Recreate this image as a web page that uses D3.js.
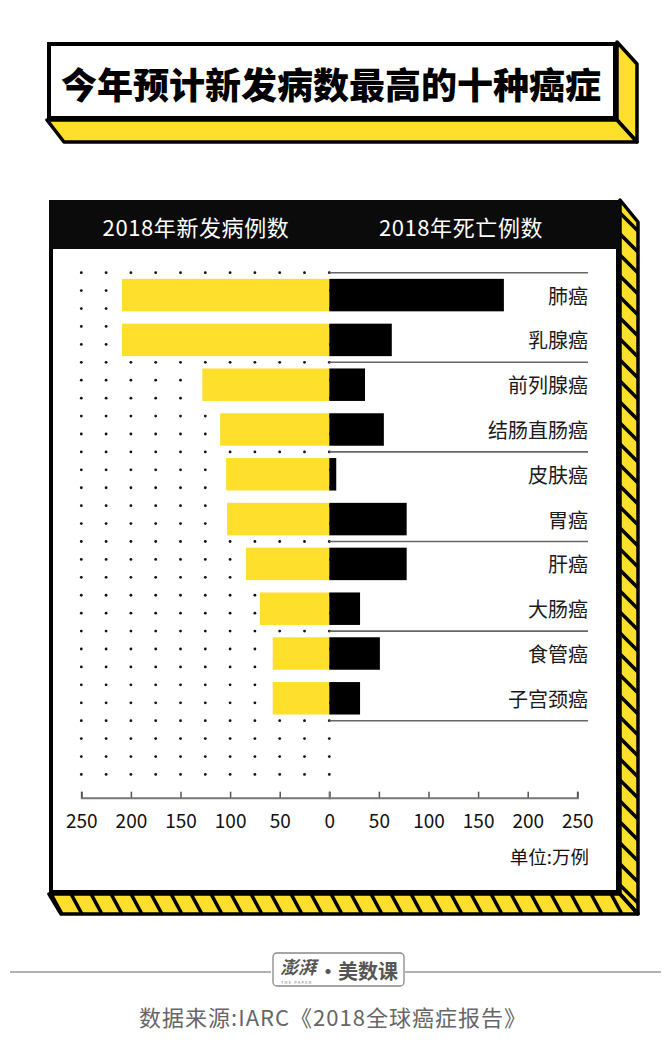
<!DOCTYPE html>
<html>
<head>
<meta charset="utf-8">
<script src="https://cdn.jsdelivr.net/npm/d3@7/dist/d3.min.js"></script>
<style>
  html, body { margin: 0; padding: 0; background: #fff; }
  svg { display: block; font-family: "Noto Sans CJK SC", "Noto Sans", sans-serif; }
</style>
</head>
<body>
<svg id="chart" width="671" height="1049"></svg>
<script>
// ---- data ----
const titleText = "今年预计新发病数最高的十种癌症";
const leftHeader = "2018年新发病例数";
const rightHeader = "2018年死亡例数";
const categories = ["肺癌", "乳腺癌", "前列腺癌", "结肠直肠癌", "皮肤癌", "胃癌", "肝癌", "大肠癌", "食管癌", "子宫颈癌"];
const newCases = [209, 209, 128, 110, 104, 103, 84, 70, 57, 57];
const deaths = [176, 63, 36, 55, 7, 78, 78, 31, 51, 31];
const tickValues = [0, 50, 100, 150, 200, 250];
const unitText = "单位:万例";
const sourceText = "数据来源:IARC《2018全球癌症报告》";

// ---- styling ----
const YELLOW = "#FEDF2B";
const svg = d3.select("#chart");

// ---------- title box ----------
const tb = {x0: 47, y0: 42, x1: 617, y1: 120, dx: 20, dy: 22};
svg.append("polygon")
  .attr("points", [[tb.x1, tb.y0], [tb.x1 + tb.dx, tb.y0 + tb.dy], [tb.x1 + tb.dx, tb.y1 + tb.dy], [tb.x1, tb.y1]].join(" "))
  .attr("fill", YELLOW).attr("stroke", "#000").attr("stroke-width", 3.5).attr("stroke-linejoin", "round");
svg.append("polygon")
  .attr("points", [[tb.x0, tb.y1], [tb.x1, tb.y1], [tb.x1 + tb.dx, tb.y1 + tb.dy], [tb.x0 + 17, tb.y1 + tb.dy]].join(" "))
  .attr("fill", YELLOW).attr("stroke", "#000").attr("stroke-width", 3.5).attr("stroke-linejoin", "round");
svg.append("rect")
  .attr("x", tb.x0 + 2).attr("y", tb.y0 + 2).attr("width", tb.x1 - tb.x0 - 4).attr("height", tb.y1 - tb.y0 - 4)
  .attr("fill", "#fff").attr("stroke", "#000").attr("stroke-width", 4);
svg.append("text")
  .attr("x", 331).attr("y", 83)
  .attr("text-anchor", "middle").attr("dominant-baseline", "central")
  .attr("font-size", 36).attr("font-weight", 900).attr("fill", "#000")
  .text(titleText);

// ---------- main box with hatched faces ----------
const mb = {x0: 49, y0: 200, x1: 620, y1: 894, dx: 18, dy: 20};
const sidePts = [[mb.x1, mb.y0], [mb.x1 + mb.dx, mb.y0 + 22], [mb.x1 + mb.dx, mb.y1 + mb.dy], [mb.x1, mb.y1]];
const botPts = [[mb.x0, mb.y1], [mb.x1, mb.y1], [mb.x1 + mb.dx, mb.y1 + mb.dy], [mb.x0 + 12, mb.y1 + mb.dy]];
const defs = svg.append("defs");
defs.append("clipPath").attr("id", "clipSide").append("polygon").attr("points", sidePts.join(" "));
defs.append("clipPath").attr("id", "clipBot").append("polygon").attr("points", botPts.join(" "));

svg.append("polygon").attr("points", sidePts.join(" ")).attr("fill", YELLOW);
svg.append("polygon").attr("points", botPts.join(" ")).attr("fill", YELLOW);
const sideG = svg.append("g").attr("clip-path", "url(#clipSide)");
sideG.selectAll("line").data(d3.range(mb.y0 - 10, mb.y1 + 40, 21)).join("line")
  .attr("x1", mb.x1 - 2).attr("y1", d => d).attr("x2", mb.x1 + mb.dx + 2).attr("y2", d => d + 22)
  .attr("stroke", "#000").attr("stroke-width", 3.5);
const botG = svg.append("g").attr("clip-path", "url(#clipBot)");
botG.selectAll("line").data(d3.range(50, 660, 20)).join("line")
  .attr("x1", d => d).attr("y1", mb.y1 - 2).attr("x2", d => d + 13).attr("y2", mb.y1 + mb.dy + 2)
  .attr("stroke", "#000").attr("stroke-width", 3.5);
svg.append("polygon").attr("points", sidePts.join(" ")).attr("fill", "none").attr("stroke", "#000").attr("stroke-width", 3.5).attr("stroke-linejoin", "round");
svg.append("polygon").attr("points", botPts.join(" ")).attr("fill", "none").attr("stroke", "#000").attr("stroke-width", 3.5).attr("stroke-linejoin", "round");

svg.append("rect")
  .attr("x", mb.x0 + 2).attr("y", mb.y0 + 2).attr("width", mb.x1 - mb.x0 - 4).attr("height", mb.y1 - mb.y0 - 4)
  .attr("fill", "#fff").attr("stroke", "#000").attr("stroke-width", 4);
svg.append("rect")
  .attr("x", mb.x0).attr("y", mb.y0).attr("width", mb.x1 - mb.x0).attr("height", 49)
  .attr("fill", "#0b0b0b");
svg.append("text").attr("x", 196).attr("y", 226)
  .attr("text-anchor", "middle").attr("dominant-baseline", "central")
  .attr("font-size", 22).attr("letter-spacing", 0.6).attr("fill", "#fff").text(leftHeader);
svg.append("text").attr("x", 461).attr("y", 226)
  .attr("text-anchor", "middle").attr("dominant-baseline", "central")
  .attr("font-size", 22).attr("letter-spacing", 0.6).attr("fill", "#fff").text(rightHeader);

// ---------- scales ----------
const x0 = 329.3;
const xL = d3.scaleLinear().domain([0, 250]).range([x0, 81.3]);
const xR = d3.scaleLinear().domain([0, 250]).range([x0, 577.3]);
const y = d3.scaleBand().domain(categories).range([272.7, 720.7]).paddingInner(0.275).paddingOuter(0.1375);
const step = y.step();
const bandTop = 272.7;

// dot grid (left side)
const dotCols = d3.range(0, 251, 25);
const dotRows = d3.range(0, 29).map(i => bandTop + i * step * 2 / 5);
const dotG = svg.append("g");
dotRows.forEach(ry => {
  dotG.selectAll(null).data(dotCols).join("circle")
    .attr("cx", d => xL(d)).attr("cy", ry).attr("r", 1.4).attr("fill", "#111");
});

// separator lines on the right every two categories
const sepRows = d3.range(0, categories.length + 1, 2).map(i => bandTop + i * step);
svg.append("g").selectAll("line").data(sepRows).join("line")
  .attr("x1", x0).attr("x2", 588).attr("y1", d => d).attr("y2", d => d)
  .attr("stroke", "#666").attr("stroke-width", 1.6);

// bars
svg.append("g").selectAll("rect").data(categories).join("rect")
  .attr("x", (d, i) => xL(newCases[i])).attr("y", d => y(d))
  .attr("width", (d, i) => x0 - xL(newCases[i])).attr("height", y.bandwidth())
  .attr("fill", YELLOW);
svg.append("g").selectAll("rect").data(categories).join("rect")
  .attr("x", x0).attr("y", d => y(d))
  .attr("width", (d, i) => xR(deaths[i]) - x0).attr("height", y.bandwidth())
  .attr("fill", "#000");

// category labels
svg.append("g").selectAll("text").data(categories).join("text")
  .attr("x", 588).attr("y", d => y(d) + y.bandwidth() / 2)
  .attr("text-anchor", "end").attr("dominant-baseline", "central")
  .attr("font-size", 20).attr("fill", "#1a1a1a").text(d => d);

// axes
const axisY = 797.7;
const axL = d3.axisBottom(xL).tickValues(tickValues).tickSize(-6).tickPadding(17).tickFormat(d3.format("d"));
const axR = d3.axisBottom(xR).tickValues(tickValues.filter(v => v > 0)).tickSize(-6).tickPadding(17).tickFormat(d3.format("d"));
[axL, axR].forEach(ax => {
  const g = svg.append("g").attr("transform", `translate(0,${axisY})`).call(ax);
  g.select(".domain").attr("stroke", "#777").attr("stroke-width", 2);
  g.selectAll(".tick line").attr("stroke", "#555").attr("stroke-width", 1.5);
  g.selectAll(".tick text").attr("font-size", 19).attr("fill", "#111")
    .attr("font-family", "'Noto Sans CJK SC', sans-serif");
});

svg.append("text").attr("x", 589).attr("y", 856)
  .attr("text-anchor", "end").attr("dominant-baseline", "central")
  .attr("font-size", 18.5).attr("fill", "#111").text(unitText);

// ---------- logo and source ----------
svg.append("line").attr("x1", 10).attr("x2", 271).attr("y1", 972).attr("y2", 972).attr("stroke", "#999").attr("stroke-width", 1.5);
svg.append("line").attr("x1", 405).attr("x2", 661).attr("y1", 972).attr("y2", 972).attr("stroke", "#999").attr("stroke-width", 1.5);
svg.append("rect").attr("x", 273).attr("y", 953).attr("width", 131).attr("height", 33).attr("rx", 4)
  .attr("fill", "#fff").attr("stroke", "#888").attr("stroke-width", 1.3);
svg.append("text").attr("x", 280).attr("y", 966).attr("dominant-baseline", "central")
  .attr("font-size", 18).attr("font-style", "italic").attr("font-weight", 700).attr("fill", "#555").text("澎湃");
svg.append("text").attr("x", 281).attr("y", 983.5).attr("font-size", 4).attr("fill", "#777").attr("letter-spacing", 1.2).text("THE PAPER");
svg.append("text").attr("x", 318).attr("y", 970).attr("dominant-baseline", "central")
  .attr("font-size", 20).attr("font-weight", 700).attr("fill", "#555").text("·美数课");

svg.append("text").attr("x", 333).attr("y", 1016)
  .attr("text-anchor", "middle").attr("dominant-baseline", "central")
  .attr("font-size", 22).attr("letter-spacing", 1).attr("fill", "#666").text(sourceText);
</script>
</body>
</html>
